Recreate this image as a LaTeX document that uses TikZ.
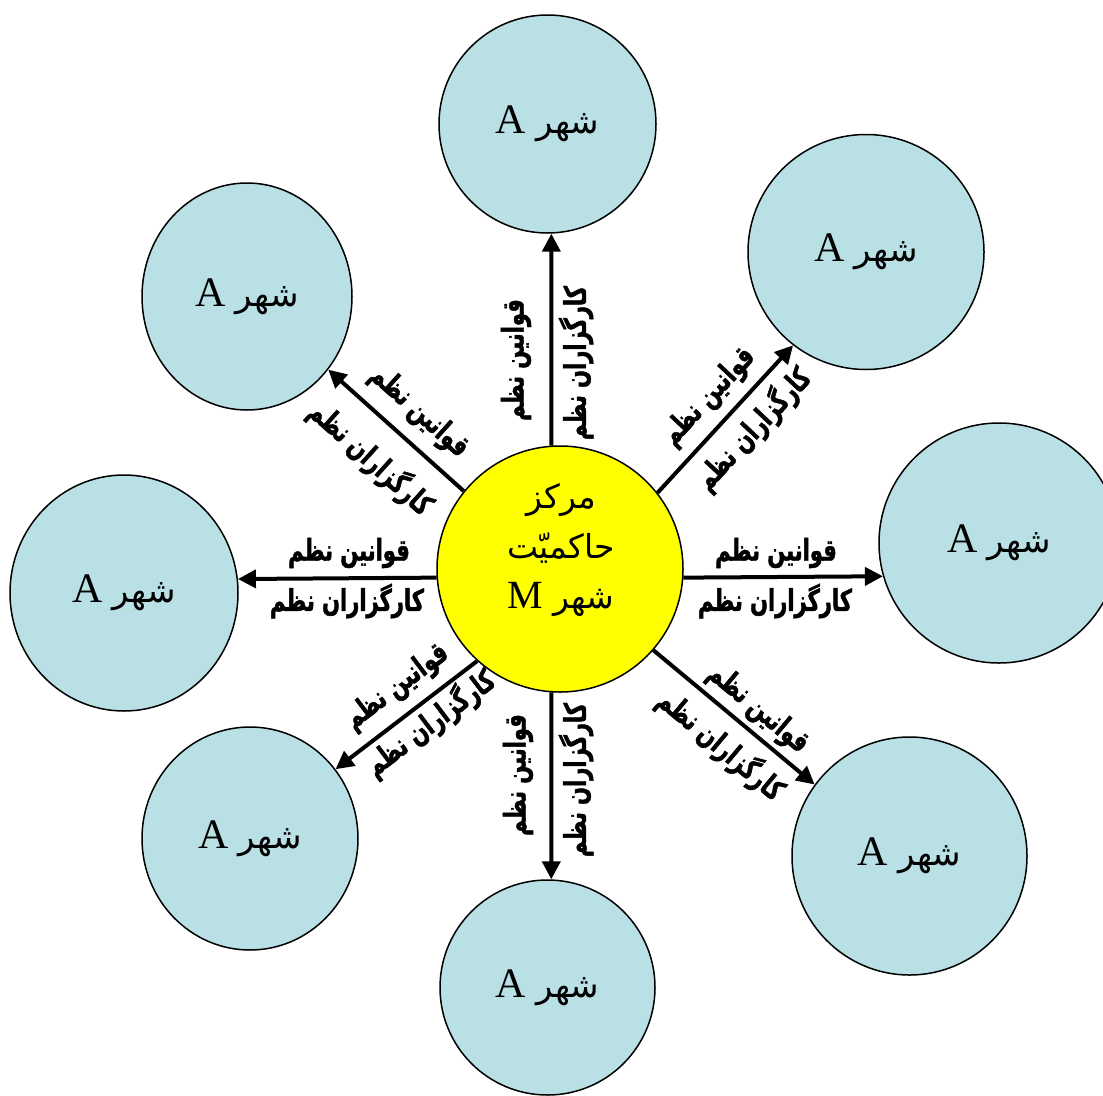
\documentclass[tikz,border=0pt]{standalone}
\usepackage{fontspec}
\setmainfont{Liberation Serif}
\newfontfamily\ar[Script=Arabic]{DejaVu Sans}
\newfontfamily\arb[Script=Arabic,FakeStretch=0.7,FakeBold=1.5]{DejaVu Sans Bold}
\TeXXeTstate=1
\usetikzlibrary{arrows.meta,shapes.geometric}
\definecolor{cityblue}{RGB}{185,224,228}
\definecolor{hubyellow}{RGB}{255,255,0}
\newcommand{\cityA}{\beginR{\ar\fontsize{34}{40}\selectfont شهر} A\endR}
\newcommand{\lawtxt}{\beginR قوانین نظم\endR}
\newcommand{\agtxt}{\beginR کارگزاران نظم\endR}
\begin{document}
\begin{tikzpicture}[x=1pt,y=-1pt,
  city/.style={ellipse, draw=black, line width=1.5pt, fill=cityblue, inner sep=0pt,
    font=\fontsize{42}{48}\selectfont},
  hub/.style={circle, draw=black, line width=1.5pt, fill=hubyellow, inner sep=0pt,
    minimum size=246pt},
  hubtext/.style={align=center, inner sep=0pt, font=\fontsize{40}{44}\selectfont},
  arr/.style={line width=4pt, -{Triangle[length=18pt,width=18pt]}},
  lab/.style={font=\arb\fontsize{30}{32}\selectfont, inner sep=0pt}]
\useasboundingbox (0,0) rectangle (1103,1095);
\fill[white] (0,0) rectangle (1103,1095);

% hub
\node[hub] (M) at (560,569) {};
\node[hubtext] (Mt) at (561,550)
  {{\ar\fontsize{33}{36}\selectfont\beginR مرکز\endR}\\[6pt]
   {\ar\fontsize{33}{36}\selectfont\beginR حاکمیّت\endR}\\[6pt]
   \beginR{\ar\fontsize{33}{36}\selectfont شهر} M\endR};

% cities
\node[city, minimum width=217pt, minimum height=218pt] (T)  at (547.5,124) {\cityA};
\node[city, minimum width=236pt, minimum height=235pt] (TR) at (866,252) {\cityA};
\node[city, minimum width=240pt, minimum height=240pt] (R)  at (999,543) {\cityA};
\node[city, minimum width=235pt, minimum height=238pt] (BR) at (909.5,856) {\cityA};
\node[city, minimum width=215pt, minimum height=215pt] (B)  at (547.5,987.5) {\cityA};
\node[city, minimum width=216pt, minimum height=223pt] (BL) at (250,838.5) {\cityA};
\node[city, minimum width=228pt, minimum height=236pt] (L)  at (124,593) {\cityA};
\node[city, minimum width=210pt, minimum height=227pt] (TL) at (247,296.5) {\cityA};

% arrows
\draw[arr] (M.94.2)  -- (T.-88.2);
\draw[arr] (M.-94.2) -- (B.88.1);
\draw[arr] (M.-4.2)  -- (R.196);
\draw[arr] (M.184.2) -- (L.7.4);
\draw[arr] (M.38.1)  -- (TR.232.4);
\draw[arr] (M.141.9) -- (TL.-42.6);
\draw[arr] (M.-41.1) -- (BR.143.9);
\draw[arr] (M.228)   -- (BL.39.2);

% labels
\node[lab] (qR) at (776,553) {\lawtxt};
\node[lab] (kR) at (775,601) {\agtxt};
\node[lab] (qL) at (349,553) {\lawtxt};
\node[lab] (kL) at (347,601) {\agtxt};
\node[lab, rotate=90] (qT) at (516,360) {\lawtxt};
\node[lab, rotate=90] (kT) at (576,363) {\agtxt};
\node[lab, rotate=90] (qB) at (518,775) {\lawtxt};
\node[lab, rotate=90] (kB) at (576,780) {\agtxt};
\node[lab, rotate=47] (qTR) at (709,397) {\lawtxt};
\node[lab, rotate=47] (kTR) at (753,429) {\agtxt};
\node[lab, rotate=-42] (qTL) at (419,412) {\lawtxt};
\node[lab, rotate=-42] (kTL) at (371,458) {\agtxt};
\node[lab, rotate=-40] (qBR) at (758,709) {\lawtxt};
\node[lab, rotate=-40] (kBR) at (721,745) {\agtxt};
\node[lab, rotate=37] (qBL) at (397,687) {\lawtxt};
\node[lab, rotate=37] (kBL) at (430,723) {\agtxt};
\end{tikzpicture}
\end{document}
